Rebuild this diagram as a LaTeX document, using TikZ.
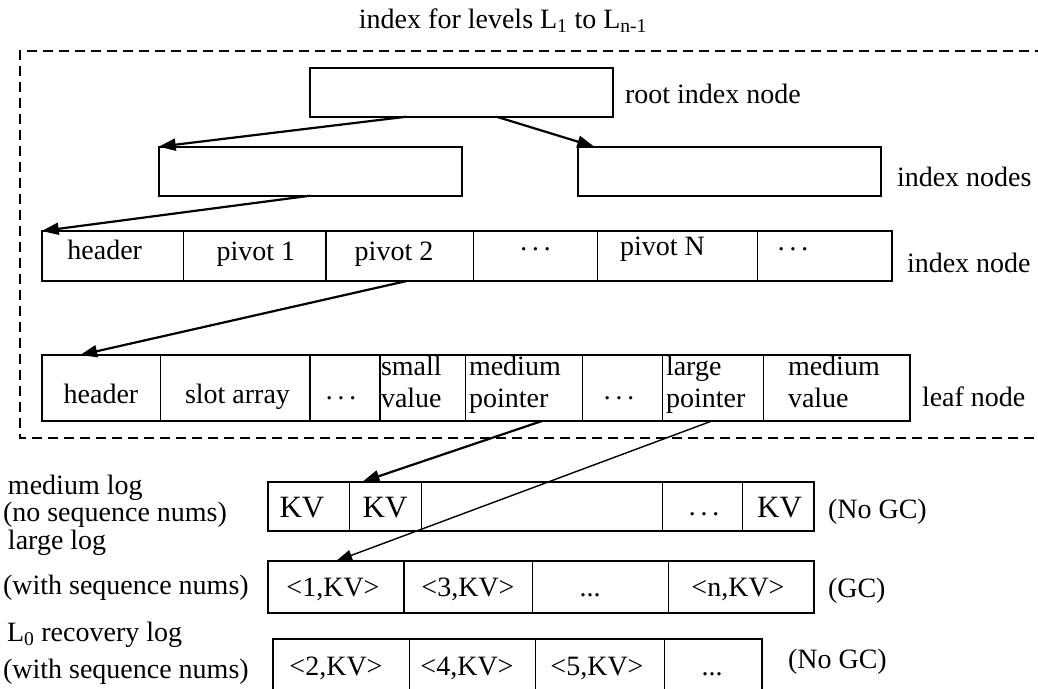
\documentclass[tikz,border=0pt]{standalone}
\usepackage{fontspec}
\setmainfont{Liberation Serif}
\usetikzlibrary{arrows.meta}
\newcommand{\mydots}{·\kern2.5pt·\kern2.5pt·}
\begin{document}
\begin{tikzpicture}[x=1pt,y=-1pt,
  every node/.style={inner sep=0pt, outer sep=0pt},
  txt/.style={font=\fontsize{28}{32}\selectfont},
  kvtxt/.style={font=\fontsize{31}{34}\selectfont},
  cell/.style={draw, line width=1.3pt, anchor=north west},
  treebox/.style={draw, line width=2.2pt, anchor=north west, minimum width=303pt, minimum height=49pt},
  outer/.style={line width=2.2pt},
  arr/.style={line width=2.2pt, -{Triangle[length=17pt,width=12pt]}},
  thinarr/.style={line width=1.4pt, -{Triangle[length=16pt,width=11pt]}},
  region/.style={line width=2.2pt, dash pattern=on 10pt off 6pt},
]
\useasboundingbox (0,0) rectangle (1038,688);

% dashed region
\draw[region] (1045,50.7) -- (20,50.7) -- (20,438) -- (1045,438);
\node[txt, anchor=base] (title) at (503,28) {index for levels L\textsubscript{1} to L\textsubscript{n-1}};

% tree boxes
\node[treebox] (root) at (310,67.7) {};
\node[treebox] (ib1) at (158.7,146.7) {};
\node[treebox] (ib2) at (578.3,146.7) {};
\node[txt, anchor=base west] (rootlbl) at (625,103) {root index node};
\node[txt, anchor=base west] (iblbl) at (897,186) {index nodes};

% index node row
\begin{scope}[every node/.append style={minimum height=50pt}]
\node[cell, minimum width=142pt] (i1) at (41.7,231) {};
\node[cell, minimum width=142.3pt] (i2) at (183.7,231) {};
\node[cell, minimum width=147.3pt] (i3) at (326,231) {};
\node[cell, minimum width=124.4pt] (i4) at (473.3,231) {};
\node[cell, minimum width=160pt] (i5) at (597.7,231) {};
\node[cell, minimum width=134pt] (i6) at (757.7,231) {};
\end{scope}
\draw[outer] (i1.north west) rectangle (i6.south east);
\node[txt, anchor=base] (ti1) at (104.7,259) {header};
\node[txt, anchor=base] (ti2) at (255.8,260) {pivot 1};
\node[txt, anchor=base] (ti3) at (394,260) {pivot 2};
\node[txt, anchor=base] (ti4) at (535.5,258) {\mydots};
\node[txt, anchor=base] (ti5) at (662.5,255) {pivot N};
\node[txt, anchor=base] (ti6) at (793,258) {\mydots};
\node[txt, anchor=base west] (inlbl) at (907,272) {index node};

% leaf node row
\begin{scope}[every node/.append style={minimum height=66pt}]
\node[cell, minimum width=119pt] (l1) at (41.7,355) {};
\node[cell, minimum width=149.3pt] (l2) at (160.7,355) {};
\node[cell, minimum width=70pt] (l3) at (310,355) {};
\node[cell, minimum width=85.7pt] (l4) at (380,355) {};
\node[cell, minimum width=116.6pt] (l5) at (465.7,355) {};
\node[cell, minimum width=80pt] (l6) at (582.3,355) {};
\node[cell, minimum width=101pt] (l7) at (662.3,355) {};
\node[cell, minimum width=146.7pt] (l8) at (763.3,355) {};
\end{scope}
\draw[outer] (l1.north west) rectangle (l8.south east);
\node[txt, anchor=base] (tl1) at (101,403) {header};
\node[txt, anchor=base] (tl2) at (237.5,403) {slot array};
\node[txt, anchor=base] (tl3) at (341,407) {\mydots};
\node[txt, anchor=base west] (tl4) at (381,375) {\begin{tabular}[t]{@{}l@{}}small\\value\end{tabular}};
\node[txt, anchor=base west] (tl5) at (469,375) {\begin{tabular}[t]{@{}l@{}}medium\\pointer\end{tabular}};
\node[txt, anchor=base] (tl6) at (619,407) {\mydots};
\node[txt, anchor=base west] (tl7) at (666,375) {\begin{tabular}[t]{@{}l@{}}large\\pointer\end{tabular}};
\node[txt, anchor=base west] (tl8) at (788,375) {\begin{tabular}[t]{@{}l@{}}medium\\value\end{tabular}};
\node[txt, anchor=base west] (lflbl) at (922,406) {leaf node};

% medium log row
\begin{scope}[every node/.append style={minimum height=49.3pt}]
\node[cell, minimum width=81pt] (m1) at (268.3,481.7) {};
\node[cell, minimum width=72.4pt] (m2) at (349.3,481.7) {};
\node[cell, minimum width=240.6pt] (m3) at (421.7,481.7) {};
\node[cell, minimum width=80pt] (m4) at (662.3,481.7) {};
\node[cell, minimum width=71.7pt] (m5) at (742.3,481.7) {};
\end{scope}
\draw[outer] (m1.north west) rectangle (m5.south east);
\node[kvtxt, anchor=base] (tm1) at (302,517) {KV};
\node[kvtxt, anchor=base] (tm2) at (385,517) {KV};
\node[txt, anchor=base] (tm4) at (704,523) {\mydots};
\node[kvtxt, anchor=base] (tm5) at (779.5,517) {KV};

% large log row
\begin{scope}[every node/.append style={minimum height=52.3pt}]
\node[cell, minimum width=135.7pt] (g1) at (268.3,561) {};
\node[cell, minimum width=128.3pt] (g2) at (404,561) {};
\node[cell, minimum width=136pt] (g3) at (532.3,561) {};
\node[cell, minimum width=145.7pt] (g4) at (668.3,561) {};
\end{scope}
\draw[outer] (g1.north west) rectangle (g4.south east);
\node[txt, anchor=base] (tg1) at (333,596) {<1,KV>};
\node[txt, anchor=base] (tg2) at (468,596) {<3,KV>};
\node[txt, anchor=base] (tg3) at (590,596) {...};
\node[txt, anchor=base] (tg4) at (738,596) {<n,KV>};

% L0 recovery log row
\begin{scope}[every node/.append style={minimum height=56pt}]
\node[cell, minimum width=136pt] (r1) at (273.3,639.3) {};
\node[cell, minimum width=126.4pt] (r2) at (409.3,639.3) {};
\node[cell, minimum width=128.6pt] (r3) at (535.7,639.3) {};
\node[cell, minimum width=97.4pt] (r4) at (664.3,639.3) {};
\end{scope}
\draw[outer] (r1.north west) rectangle (r4.south east);
\node[txt, anchor=base] (tr1) at (336,675) {<2,KV>};
\node[txt, anchor=base] (tr2) at (467,675) {<4,KV>};
\node[txt, anchor=base] (tr3) at (597,675) {<5,KV>};
\node[txt, anchor=base] (tr4) at (712,675) {...};

% left labels
\node[txt, anchor=base west] (ml1) at (8,494.5) {medium log};
\node[txt, anchor=base west] (ml2) at (3,521) {(no sequence nums)};
\node[txt, anchor=base west] (gl1) at (8,549) {large log};
\node[txt, anchor=base west] (gl2) at (3,594) {(with sequence nums)};
\node[txt, anchor=base west] (rl1) at (7,641) {L\textsubscript{0} recovery log};
\node[txt, anchor=base west] (rl2) at (3,678) {(with sequence nums)};

% right labels
\node[txt, anchor=base west] (mgc) at (828,518) {(No GC)};
\node[txt, anchor=base west] (ggc) at (828,597.5) {(GC)};
\node[txt, anchor=base west] (rgc) at (788,668.5) {(No GC)};

% connectors
\draw[arr] ([xshift=-55pt]root.south) -- (ib1.north west);
\draw[arr] ([xshift=35pt]root.south) -- ([xshift=16pt]ib2.north west);
\draw[arr] (ib1.south) -- (i1.north west);
\draw[arr] ([xshift=7pt]i3.south) -- ([xshift=-21pt]l1.north);
\draw[arr] ([xshift=18pt]l5.south) -- ([xshift=-23pt]m2.north);
\draw[thinarr] ([xshift=-1pt]l7.south) -- (g1.north);
\end{tikzpicture}
\end{document}
